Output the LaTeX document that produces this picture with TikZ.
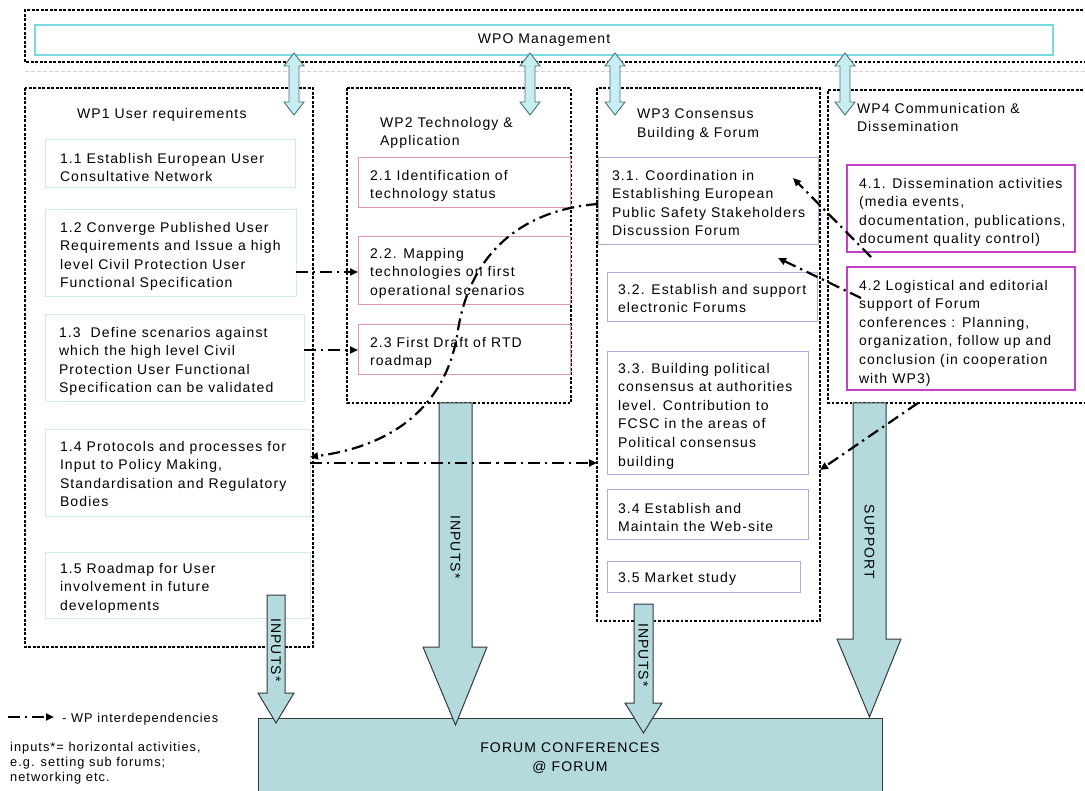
\documentclass[tikz,border=0pt]{standalone}
\usepackage{fontspec}
\setmainfont{Liberation Sans}[LetterSpace=8]
\usetikzlibrary{arrows.meta,calc}
\definecolor{arrowfill}{RGB}{180,218,222}
\definecolor{dblfill}{RGB}{200,238,242}
\definecolor{dbledge}{RGB}{70,115,120}
\definecolor{mgmtcol}{RGB}{120,218,228}
\definecolor{wp1col}{RGB}{205,236,238}
\definecolor{wp2col}{RGB}{222,150,178}
\definecolor{wp3col}{RGB}{184,166,220}
\definecolor{wp4col}{RGB}{196,64,200}
\definecolor{outl}{RGB}{50,58,60}
\newcommand\bodyfont{\fontsize{14}{18.6}\selectfont}
\newcommand\smallfont{\fontsize{12.8}{15}\selectfont}
\tikzset{
  dotbox/.style={line width=2.8pt, dash pattern=on 2.6pt off 1.9pt, draw=black},
  wbox/.style={anchor=north west, inner sep=0pt, outer sep=0pt, line width=1pt},
  box1/.style={wbox, draw=wp1col},
  box2/.style={wbox, draw=wp2col},
  box3/.style={wbox, draw=wp3col},
  box4/.style={wbox, draw=wp4col, line width=1.4pt},
  txt/.style={anchor=north west, align=left, inner sep=0pt, outer sep=0pt, font=\bodyfont},
  bigarrow/.style={fill=arrowfill, draw=outl, line width=1pt},
  dblarrow/.style={fill=dblfill, draw=dbledge, line width=0.9pt},
  arrtxt/.style={rotate=-90, inner sep=0pt, font=\bodyfont},
  dep/.style={line width=2.2pt, dash pattern=on 12pt off 5pt on 2.2pt off 5pt, draw=black,
    -{Triangle[length=8pt,width=7pt]}},
}
\begin{document}
\begin{tikzpicture}[x=1pt,y=-1pt]
\useasboundingbox (0,0) rectangle (1085,791);
\clip (0,0) rectangle (1085,791);
\fill[white] (0,0) rectangle (1085,791);

% WP0
\draw[dotbox] (1092,10) -- (25,10) -- (25,62) -- (1092,62);
\draw[gray!35, dash pattern=on 4pt off 2pt, line width=0.8pt] (25,71) -- (1085,71);
\node[wbox, draw=mgmtcol, line width=1.8pt, fill=white, minimum width=1018pt, minimum height=30pt, font=\bodyfont] (b0) at (35,25) {WPO Management};

% containers
\coordinate (wp1nw) at (25,88); \coordinate (wp1se) at (313,647);
\draw[dotbox] (wp1nw) rectangle (wp1se);
\draw[dotbox] (347,88) rectangle (571,403);
\draw[dotbox] (597,88) rectangle (820,621);
\draw[dotbox] (1092,90) -- (828,90) -- (828,403) -- (1092,403);
\node[inner sep=0, outer sep=0, minimum width=223pt, minimum height=533pt, anchor=north west] (wp3) at (597,88) {};
\node[inner sep=0, outer sep=0, minimum width=262pt, minimum height=313pt, anchor=north west] (wp4) at (828,90) {};

% Forum box
\node[anchor=north west, inner sep=0, fill=arrowfill, draw=outl, line width=1pt, minimum width=624pt, minimum height=90pt] (forum) at (258,718) {};
\node[font=\bodyfont, align=center, inner sep=0] (forumtxt) at (570,758) {FORUM CONFERENCES\\@ FORUM};

% double arrows
\foreach \cx in {294,530,615,845} {
  \draw[dblarrow] (\cx,53) -- ++(10,13) -- ++(-5,0) -- ++(0,36) -- ++(5,0) -- ++(-10,13) -- ++(-10,-13) -- ++(5,0) -- ++(0,-36) -- ++(-5,0) -- cycle;
}

% WP1
\node[txt] (t1) at (77,108) {WP1 User requirements};
\node[box1, minimum width=250pt, minimum height=48pt] (b11) at (45,140) {};
\node[box1, minimum width=251pt, minimum height=87pt] (b12) at (45,210) {};
\node[box1, minimum width=259pt, minimum height=87pt] (b13) at (45,315) {};
\node[box1, minimum width=265pt, minimum height=87pt] (b14) at (45,430) {};
\node[box1, minimum width=265pt, minimum height=66pt] (b15) at (45,552) {};
\node[txt] (t11) at (60,153) {1.1 Establish European User\\Consultative Network};
\node[txt] (t12) at (60,222) {1.2 Converge Published User\\Requirements and Issue a high\\level Civil Protection User\\Functional Specification};
\node[txt] (t13) at (59,327) {1.3 \ Define scenarios against\\which the high level Civil\\Protection User Functional\\Specification can be validated};
\node[txt] (t14) at (60,441) {1.4 Protocols and processes for\\Input to Policy Making,\\Standardisation and Regulatory\\Bodies};
\node[txt] (t15) at (60,563) {1.5 Roadmap for User\\involvement in future\\developments};

% WP2
\node[txt] (t2) at (380,117) {WP2 Technology \&\\Application};
\node[box2, minimum width=212pt, minimum height=50pt] (b21) at (358,158) {};
\node[box2, minimum width=212pt, minimum height=68pt] (b22) at (358,237) {};
\node[box2, minimum width=212pt, minimum height=50pt] (b23) at (358,325) {};
\node[txt] (t21) at (370,170) {2.1 Identification of\\technology status};
\node[txt] (t22) at (370,248) {2.2. Mapping\\technologies on first\\operational scenarios};
\node[txt] (t23) at (370,337) {2.3 First Draft of RTD\\roadmap};

% WP3
\node[txt] (t3) at (637,109) {WP3 Consensus\\Building \& Forum};
\node[box3, minimum width=220pt, minimum height=87pt] (b31) at (598,158) {};
\node[box3, minimum width=210pt, minimum height=49pt] (b32) at (607,273) {};
\node[box3, minimum width=201pt, minimum height=123pt] (b33) at (607,352) {};
\node[box3, minimum width=201pt, minimum height=49pt] (b34) at (607,490) {};
\node[box3, minimum width=193pt, minimum height=31pt] (b35) at (607,561) {};
\node[txt] (t31) at (612,170) {3.1. Coordination in\\Establishing European\\Public Safety Stakeholders\\Discussion Forum};
\node[txt] (t32) at (618,284) {3.2. Establish and support\\electronic Forums};
\node[txt] (t33) at (618,363) {3.3. Building political\\consensus at authorities\\level. Contribution to\\FCSC in the areas of\\Political consensus\\building};
\node[txt] (t34) at (618,503) {3.4 Establish and\\Maintain the Web-site};
\node[txt] (t35) at (618,572) {3.5 Market study};

% WP4
\node[txt] (t4) at (857,103) {WP4 Communication \&\\Dissemination};
\node[box4, minimum width=228pt, minimum height=87pt] (b41) at (847,165) {};
\node[box4, minimum width=228pt, minimum height=123pt] (b42) at (847,267) {};
\node[txt] (t41) at (859,178) {4.1. Dissemination activities\\(media events,\\documentation, publications,\\document quality control)};
\node[txt] (t42) at (859,280) {4.2 Logistical and editorial\\support of Forum\\conferences : Planning,\\organization, follow up and\\conclusion (in cooperation\\with WP3)};

% big arrows
\draw[bigarrow] (267,595) -- (285,595) -- (285,693) -- (294,693) -- (276,723) -- (258,693) -- (267,693) -- cycle;
\node[arrtxt] (a1) at (276,650) {INPUTS*};
\draw[bigarrow] (439,403) -- (472,403) -- (472,647) -- (487,647) -- (455.5,725) -- (423,647) -- (439,647) -- cycle;
\node[arrtxt] (a2) at (455.5,547) {INPUTS*};
\draw[bigarrow] (634,604) -- (653,604) -- (653,703) -- (662,703) -- (643.5,733) -- (625,703) -- (634,703) -- cycle;
\node[arrtxt] (a3) at (643.5,655) {INPUTS*};
\draw[bigarrow] (853,403) -- (886,403) -- (886,639) -- (901,639) -- (869.5,717) -- (837,639) -- (853,639) -- cycle;
\node[arrtxt] (a4) at (869.5,542) {SUPPORT};

% dependencies
\draw[dep] (b12.east |- 0,272) -- (b22.west |- 0,272);
\draw[dep] (b13.east |- 0,350) -- (b23.west |- 0,350);
\draw[dep] (b31.west |- 0,204) .. controls (520,210) and (470,255) .. (458,330) .. controls (448,400) and (400,445) .. (b14.east |- 0,457);
\draw[dep] (b14.east |- 0,463) -- (wp3.west |- 0,463);
\draw[dep] ($(b41.south west)+(24,5)$) -- ($(b31.north east)+(-25,20)$);
\draw[dep] ($(b42.north west)+(14,31)$) -- ($(b32.north east)+(-39,-15)$);
\draw[dep] ($(wp4.south west)+(90,0)$) -- (wp3.east |- 0,470);

% legend
\coordinate (lg1) at (8,717); \coordinate (lg2) at (54,717);
\draw[dep] (lg1) -- (lg2);
\node[anchor=west, inner sep=0, font=\smallfont] (lgt) at (62,719) {- WP interdependencies};
\node[anchor=north west, align=left, inner sep=0, font=\smallfont] (note) at (10,742) {inputs*= horizontal activities,\\e.g. setting sub forums;\\networking etc.};
\end{tikzpicture}
\end{document}
